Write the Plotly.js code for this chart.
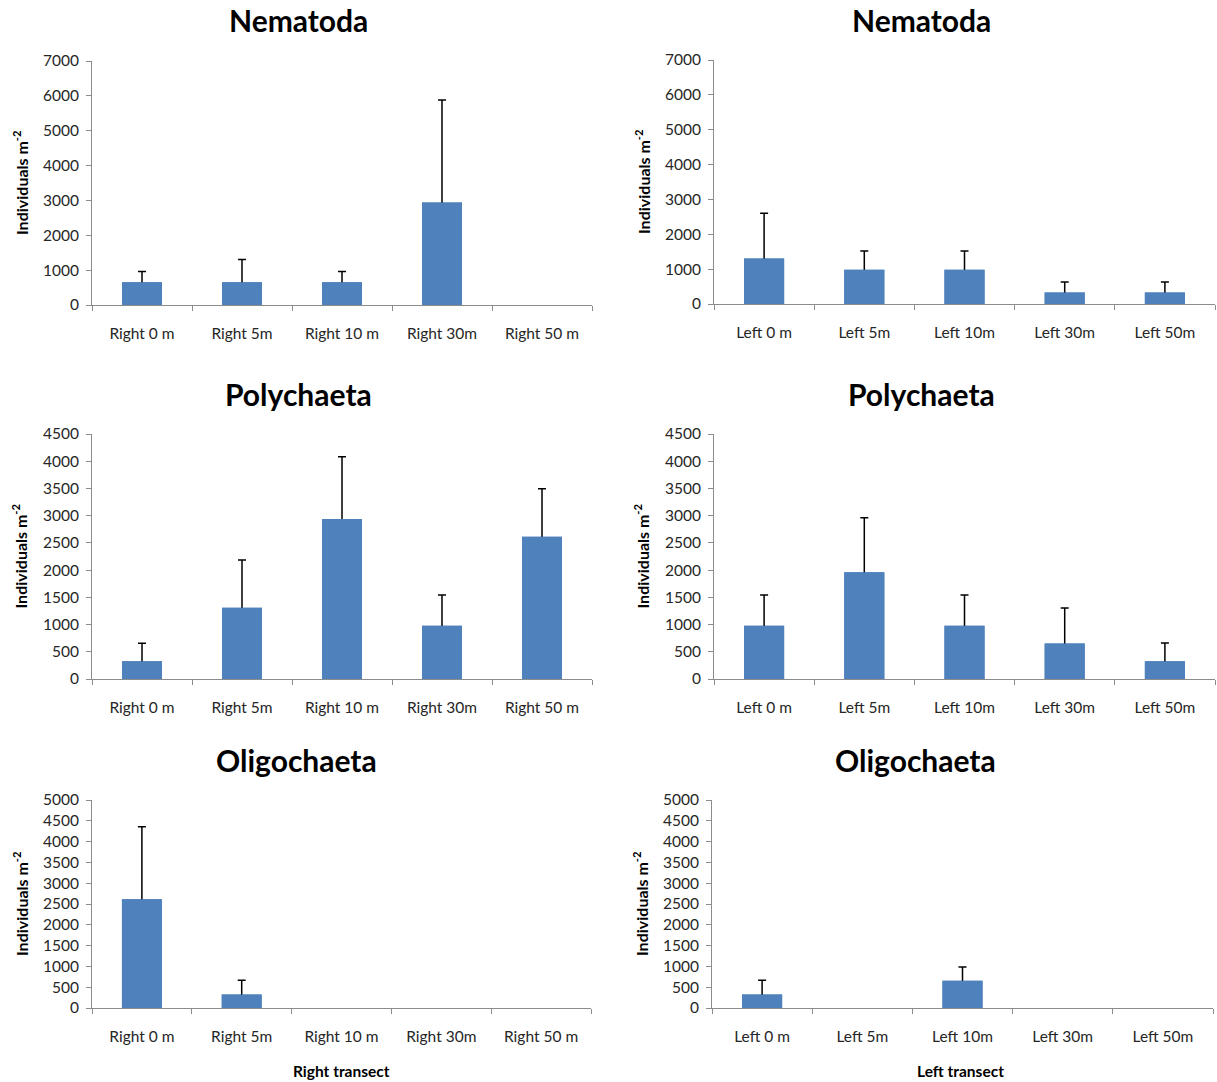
<!DOCTYPE html>
<html>
<head>
<meta charset="utf-8">
<script src="https://cdn.plot.ly/plotly-3.0.1.min.js"></script>
<style>
  html, body { margin: 0; padding: 0; background: #ffffff; }
  #chart { width: 1217px; height: 1082px; }
</style>
</head>
<body>
<div id="chart"></div>
<script>
// Sampling stations along each transect
const rightStations = ["Right 0 m", "Right 5m", "Right 10 m", "Right 30m", "Right 50 m"];
const leftStations = ["Left 0 m", "Left 5m", "Left 10m", "Left 30m", "Left 50m"];

// Mean densities (individuals per m²) and their upper error (SD)
const nematodaRight = [654, 654, 654, 2941, 0];
const nematodaRightErr = [310, 650, 310, 2940, null];
const nematodaLeft = [1307, 980, 980, 327, 327];
const nematodaLeftErr = [1300, 540, 540, 305, 305];

const polychaetaRight = [327, 1307, 2941, 980, 2614];
const polychaetaRightErr = [330, 880, 1140, 564, 880];
const polychaetaLeft = [980, 1961, 980, 654, 327];
const polychaetaLeftErr = [564, 1000, 564, 651, 334];

const oligochaetaRight = [2614, 327, 0, 0, 0];
const oligochaetaRightErr = [1740, 340, null, null, null];
const oligochaetaLeft = [327, 0, 654, 0, 0];
const oligochaetaLeftErr = [340, null, 330, null, null];

const yTitle = "Individuals m<sup>-2</sup>";
const panelTitles = ["Nematoda", "Nematoda", "Polychaeta", "Polychaeta", "Oligochaeta", "Oligochaeta"];

const BAR = "#4F81BD";
const FONT = "Lato, 'Open Sans', sans-serif";

// Stations without an error value get no whisker at all.
const orNaN = v => (v == null ? NaN : v);

// The error stem starts slightly inside the bar; a second copy of the bars
// is drawn over it so only the part above the bar top stays visible.
function panelTraces(x, y, err, xa, ya) {
  const withErr = {
    type: "bar", x: x, y: y, xaxis: xa, yaxis: ya,
    marker: { color: BAR, line: { width: 0 } },
    error_y: {
      type: "data", symmetric: false,
      array: err.map(orNaN),
      arrayminus: err.map(e => (e == null ? NaN : 60)),
      color: "#000000", thickness: 1.5, width: 4
    },
    hoverinfo: "skip", showlegend: false
  };
  const cover = {
    type: "bar", x: x, y: y, xaxis: xa, yaxis: ya,
    marker: { color: BAR, line: { width: 0 } },
    hoverinfo: "x+y", showlegend: false
  };
  return [withErr, cover];
}

const data = [].concat(
  panelTraces(rightStations, nematodaRight, nematodaRightErr, "x", "y"),
  panelTraces(leftStations, nematodaLeft, nematodaLeftErr, "x2", "y2"),
  panelTraces(rightStations, polychaetaRight, polychaetaRightErr, "x3", "y3"),
  panelTraces(leftStations, polychaetaLeft, polychaetaLeftErr, "x4", "y4"),
  panelTraces(rightStations, oligochaetaRight, oligochaetaRightErr, "x5", "y5"),
  panelTraces(leftStations, oligochaetaLeft, oligochaetaLeftErr, "x6", "y6")
);

const W = 1217, H = 1082;
const px = v => v / W;
const py = v => (H - v) / H;

// Plot areas in pixels: [left, right, top, bottom]
const boxes = [
  [92, 592, 61, 305],
  [714, 1215, 60, 304],
  [92, 592, 434, 679],
  [714, 1215, 434, 679],
  [92, 591, 800, 1008],
  [712, 1213, 800, 1008]
];
const titleCenters = [298, 921, 298, 922, 296, 916];
const titleRows = [20, 20, 394, 394, 760, 760];
const yMax = [7000, 7000, 4500, 4500, 5000, 5000];
const yStep = [1000, 1000, 500, 500, 500, 500];

const layout = {
  width: W, height: H,
  margin: { l: 0, r: 0, t: 0, b: 0 },
  paper_bgcolor: "#ffffff",
  plot_bgcolor: "#ffffff",
  barmode: "overlay",
  bargap: 0.6,
  font: { family: FONT, color: "#262626", size: 15.5 },
  annotations: []
};

boxes.forEach((b, i) => {
  const n = i === 0 ? "" : String(i + 1);
  layout["xaxis" + n] = {
    domain: [px(b[0]), px(b[1])],
    anchor: "y" + n,
    type: "category",
    showline: true, linecolor: "#8c8c8c", linewidth: 1,
    ticks: "outside", tickson: "boundaries", ticklen: 5, tickcolor: "#8c8c8c",
    ticklabelstandoff: 14,
    tickfont: { family: FONT, size: 15.5, color: "#262626" },
    showgrid: false, zeroline: false, fixedrange: true
  };
  layout["yaxis" + n] = {
    domain: [py(b[3]), py(b[2])],
    anchor: "x" + n,
    range: [0, yMax[i]],
    dtick: yStep[i], tick0: 0,
    showline: true, linecolor: "#8c8c8c", linewidth: 1,
    ticks: "outside", ticklen: 5, tickcolor: "#8c8c8c",
    ticklabelstandoff: 4,
    tickfont: { family: FONT, size: 15.5, color: "#262626" },
    showgrid: false, zeroline: false, fixedrange: true
  };
  // Panel title
  layout.annotations.push({
    xref: "paper", yref: "paper",
    x: px(titleCenters[i]), y: py(titleRows[i]),
    xanchor: "center", yanchor: "middle",
    text: "<b>" + panelTitles[i] + "</b>", showarrow: false,
    font: { family: FONT, size: 30, color: "#000000" }
  });
  // Y-axis title
  layout.annotations.push({
    xref: "paper", yref: "paper",
    x: px(b[0] - 72), y: py((b[2] + b[3]) / 2),
    xanchor: "center", yanchor: "middle",
    textangle: -90,
    text: "<b>" + yTitle + "</b>", showarrow: false,
    font: { family: FONT, size: 16, color: "#000000" }
  });
});

// Transect labels under the bottom row
layout.annotations.push({
  xref: "paper", yref: "paper", x: px(341), y: py(1071),
  xanchor: "center", yanchor: "middle", showarrow: false,
  text: "<b>Right transect</b>", font: { family: FONT, size: 15.5, color: "#000000" }
});
layout.annotations.push({
  xref: "paper", yref: "paper", x: px(960), y: py(1071),
  xanchor: "center", yanchor: "middle", showarrow: false,
  text: "<b>Left transect</b>", font: { family: FONT, size: 15.5, color: "#000000" }
});

Plotly.newPlot("chart", data, layout, { displayModeBar: false, staticPlot: true });
</script>
</body>
</html>
